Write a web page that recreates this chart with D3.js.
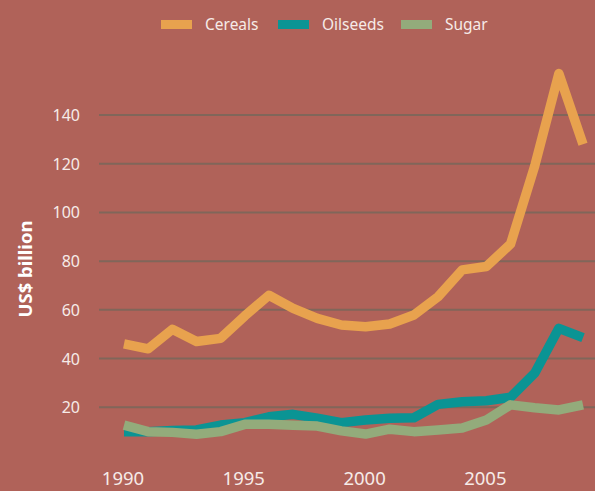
<!DOCTYPE html>
<html>
<head>
<meta charset="utf-8">
<script src="https://cdn.jsdelivr.net/npm/d3@7"></script>
<style>
  body { margin: 0; background: #b06259; }
  svg { display: block; font-family: "Noto Sans", "Open Sans", sans-serif; }
</style>
</head>
<body>
<svg id="chart"></svg>
<script>
// data (US$ billion)
var years = d3.range(1990, 2010);
var cereals = [46, 44, 52, 47, 48.3, 57.5, 66, 60.6, 56.5, 53.8, 53.1, 54.2, 57.9, 65.4, 76.4, 77.8, 87, 119, 157, 128];
var oilseeds = [10, 10, 10.5, 10.7, 12.7, 13.7, 16.1, 17.1, 15.5, 13.7, 14.8, 15.5, 15.7, 21.2, 22.3, 22.7, 24.1, 34, 52.4, 48.6];
var sugar = [12.7, 10, 9.7, 8.9, 10, 13, 13, 12.6, 12.3, 10.3, 9, 11, 10, 10.7, 11.5, 14.8, 21, 19.8, 18.9, 21];
var seriesNames = ["Cereals", "Oilseeds", "Sugar"];
var seriesColors = ["#e8a24e", "#0a9494", "#93ab7b"];
var yTicks = [20, 40, 60, 80, 100, 120, 140];
var xTicks = [1990, 1995, 2000, 2005];

var screen = {width: 595, height: 491};

var svg = d3.select("#chart")
    .attr("width", screen.width)
    .attr("height", screen.height);

svg.append("rect")
    .attr("width", screen.width)
    .attr("height", screen.height)
    .attr("fill", "#b06259");

var xScale = d3.scaleLinear()
    .domain([1990, 2009])
    .range([124, 583]);

var yScale = d3.scaleLinear()
    .domain([0, 140])
    .range([456, 115]);

// gridlines
svg.append("g")
    .selectAll("line")
    .data(yTicks)
    .enter()
    .append("line")
    .attr("x1", 99)
    .attr("x2", screen.width)
    .attr("y1", function(d) { return yScale(d); })
    .attr("y2", function(d) { return yScale(d); })
    .attr("stroke", "#80665a")
    .attr("stroke-width", 2);

// y labels
svg.append("g")
    .selectAll("text")
    .data(yTicks)
    .enter()
    .append("text")
    .text(function(d) { return d; })
    .attr("x", 80)
    .attr("y", function(d) { return yScale(d) + 6; })
    .attr("text-anchor", "end")
    .attr("fill", "#f6ebe8")
    .attr("font-size", 16);

// x labels
svg.append("g")
    .selectAll("text")
    .data(xTicks)
    .enter()
    .append("text")
    .text(function(d) { return d; })
    .attr("x", function(d) { return xScale(d) - 1; })
    .attr("y", 485)
    .attr("text-anchor", "middle")
    .attr("fill", "#f6ebe8")
    .attr("font-size", 18.5);

// axis title
svg.append("text")
    .text("US$ billion")
    .attr("transform", "translate(32,269) rotate(-90)")
    .attr("text-anchor", "middle")
    .attr("fill", "#ffffff")
    .attr("font-weight", "bold")
    .attr("font-size", 18.5);

var line = d3.line()
    .x(function(d, i) { return xScale(years[i]); })
    .y(function(d) { return yScale(d); });

var allSeries = [cereals, oilseeds, sugar];
// draw order: sugar over oilseeds at the start, as in the picture
[1, 2, 0].forEach(function(k) {
    svg.append("path")
        .datum(allSeries[k])
        .attr("d", line)
        .attr("fill", "none")
        .attr("stroke", seriesColors[k])
        .attr("stroke-width", 9.5)
        .attr("stroke-linejoin", "round");
});

// legend
var legendX = [161, 278, 401];
var legend = svg.append("g")
    .selectAll("g")
    .data(seriesNames)
    .enter()
    .append("g")
    .attr("transform", function(d, i) { return "translate(" + legendX[i] + ",20)"; });

legend.append("rect")
    .attr("width", 31)
    .attr("height", 9)
    .attr("fill", function(d, i) { return seriesColors[i]; });

legend.append("text")
    .text(function(d) { return d; })
    .attr("x", 44)
    .attr("y", 10)
    .attr("fill", "#f6ebe8")
    .attr("font-size", 15.5);
</script>
</body>
</html>
